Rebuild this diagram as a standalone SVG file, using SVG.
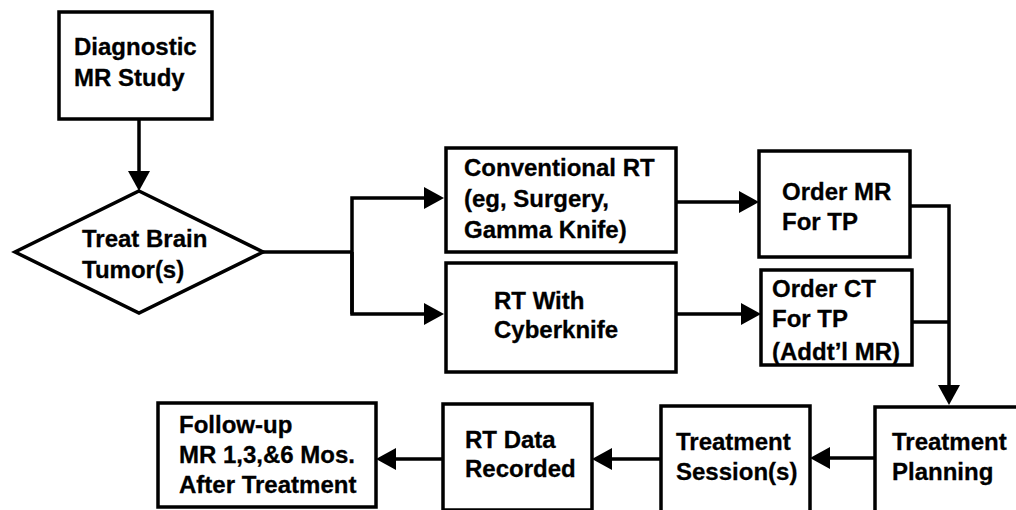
<svg xmlns="http://www.w3.org/2000/svg" width="1016" height="510" viewBox="0 0 1016 510">
  <style>
    .box { fill: #ffffff; stroke: #000000; stroke-width: 3.5; }
    .lbl { font-family: "Liberation Sans", Arial, sans-serif; font-weight: bold; font-size: 24px; fill: #000000; stroke: #000000; stroke-width: 0.3; }
    .wire { fill: none; stroke: #000000; stroke-width: 3.5; }
  </style>
  <defs>
    <marker id="arrow" viewBox="0 0 20 22" refX="14" refY="11" markerWidth="20" markerHeight="22" markerUnits="userSpaceOnUse" orient="auto">
      <polygon points="0,0 20,11 0,22" fill="#000000"/>
    </marker>
  </defs>
  <rect width="1016" height="510" fill="#ffffff"/>

  <g id="connectors">
    <line class="wire" x1="139" y1="119" x2="139" y2="185" marker-end="url(#arrow)"/>
    <polyline class="wire" points="263,252 352,252"/>
    <polyline class="wire" points="352,314 352,198 438,198" marker-end="url(#arrow)"/>
    <polyline class="wire" points="352,252 352,314 438,314" marker-end="url(#arrow)"/>
    <line class="wire" x1="676" y1="202" x2="753" y2="202" marker-end="url(#arrow)"/>
    <line class="wire" x1="676" y1="314" x2="755" y2="314" marker-end="url(#arrow)"/>
    <polyline class="wire" points="910,206 949,206 949,399" marker-end="url(#arrow)"/>
    <polyline class="wire" points="912,322 949,322"/>
    <line class="wire" x1="875" y1="458" x2="816" y2="458" marker-end="url(#arrow)"/>
    <line class="wire" x1="661" y1="459" x2="598" y2="459" marker-end="url(#arrow)"/>
    <line class="wire" x1="443" y1="459" x2="382" y2="459" marker-end="url(#arrow)"/>
  </g>

  <g id="diagnostic-mr">
    <rect class="box" x="59" y="12" width="153" height="107"/>
    <text class="lbl" x="74" y="55">Diagnostic</text>
    <text class="lbl" x="74" y="86">MR Study</text>
  </g>

  <g id="treat-decision">
    <polygon class="box" points="139,191 263,252 139,313 15,252"/>
    <text class="lbl" x="82" y="247">Treat Brain</text>
    <text class="lbl" x="82" y="278">Tumor(s)</text>
  </g>

  <g id="conventional-rt">
    <rect class="box" x="446" y="148" width="230" height="104"/>
    <text class="lbl" x="464" y="176">Conventional RT</text>
    <text class="lbl" x="464" y="207">(eg, Surgery,</text>
    <text class="lbl" x="464" y="238">Gamma Knife)</text>
  </g>

  <g id="cyberknife-rt">
    <rect class="box" x="446" y="263" width="230" height="109"/>
    <text class="lbl" x="494" y="309">RT With</text>
    <text class="lbl" x="494" y="338">Cyberknife</text>
  </g>

  <g id="order-mr">
    <rect class="box" x="759" y="151" width="151" height="106"/>
    <text class="lbl" x="782" y="200">Order MR</text>
    <text class="lbl" x="782" y="230">For TP</text>
  </g>

  <g id="order-ct">
    <rect class="box" x="761" y="270" width="151" height="95"/>
    <text class="lbl" x="772" y="297">Order CT</text>
    <text class="lbl" x="772" y="327">For TP</text>
    <text class="lbl" x="772" y="360">(Addt’l MR)</text>
  </g>

  <g id="treatment-planning">
    <rect class="box" x="875" y="407" width="160" height="120"/>
    <text class="lbl" x="892" y="450">Treatment</text>
    <text class="lbl" x="892" y="480">Planning</text>
  </g>

  <g id="treatment-sessions">
    <rect class="box" x="661" y="406" width="149" height="120"/>
    <text class="lbl" x="676" y="450">Treatment</text>
    <text class="lbl" x="676" y="480">Session(s)</text>
  </g>

  <g id="rt-data">
    <rect class="box" x="443" y="404" width="149" height="106"/>
    <text class="lbl" x="465" y="448">RT Data</text>
    <text class="lbl" x="465" y="477">Recorded</text>
  </g>

  <g id="follow-up">
    <rect class="box" x="158" y="403" width="218" height="104"/>
    <text class="lbl" x="179" y="433">Follow-up</text>
    <text class="lbl" x="179" y="463">MR 1,3,&amp;6 Mos.</text>
    <text class="lbl" x="179" y="493">After Treatment</text>
  </g>
</svg>
